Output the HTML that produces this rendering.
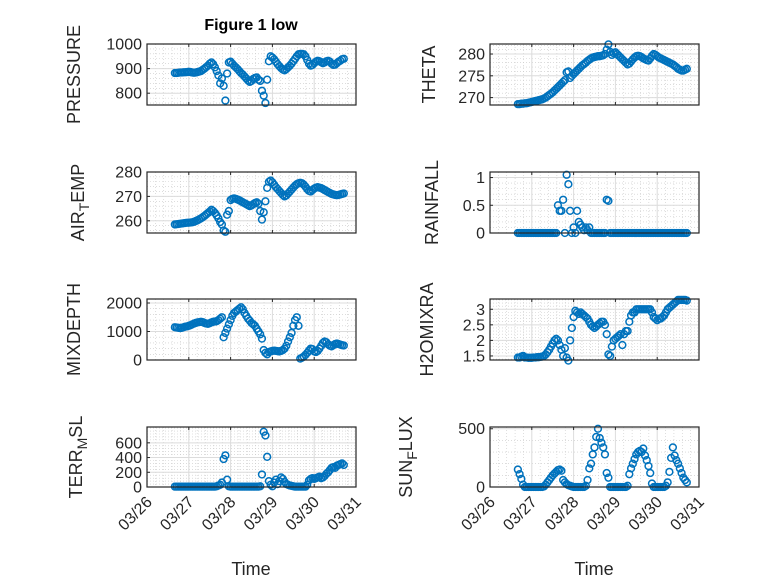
<!DOCTYPE html>
<html><head><meta charset="utf-8"><style>
body{margin:0;background:#fff;}
svg{display:block;font-family:"Liberation Sans","DejaVu Sans",sans-serif;}
</style></head><body>
<svg id="fig" width="778" height="583" viewBox="0 0 778 583" xmlns="http://www.w3.org/2000/svg">
<rect width="778" height="583" fill="#fff"/>
<text x="251" y="30" text-anchor="middle" font-size="16" font-weight="bold" fill="#000">Figure 1 low</text>
<text x="251" y="575" text-anchor="middle" font-size="18" fill="#262626">Time</text>
<text x="594" y="575" text-anchor="middle" font-size="18" fill="#262626">Time</text>
</svg>
<script>
const startHour = 16;
const dayLabels = ["03/26","03/27","03/28","03/29","03/30","03/31"];
const pressure = [882,882,883,884,884,885,885,886,887,886,884,883,884,886,888,890,895,900,906,912,920,925,918,905,890,872,840,860,830,770,880,925,928,920,912,905,898,890,882,876,868,860,852,846,850,858,862,864,855,850,810,790,760,855,930,950,945,938,928,918,910,902,896,893,898,905,912,920,930,940,950,958,960,960,958,950,935,920,912,915,922,928,932,930,926,922,925,930,932,928,920,915,916,922,928,932,938,940];
const theta = [268.5,268.5,268.6,268.6,268.7,268.7,268.8,268.9,269.0,269.1,269.2,269.3,269.4,269.5,269.6,269.8,270.0,270.3,270.6,270.9,271.2,271.6,272.0,272.4,272.8,273.2,273.6,274.0,275.8,276.0,274.5,275.0,275.4,275.8,276.2,276.6,277.0,277.4,277.7,278.0,278.4,278.7,279.0,279.2,279.3,279.4,279.5,279.5,279.6,279.7,280.0,281.0,282.2,280.5,279.8,280.2,280.4,280.0,279.6,279.2,278.8,278.4,278.0,277.6,277.8,278.3,278.8,279.2,279.5,279.6,279.5,279.3,279.0,278.8,278.6,278.5,279.0,279.6,280.0,279.8,279.5,279.2,279.0,278.8,278.6,278.4,278.2,278.0,277.8,277.6,277.3,277.0,276.6,276.4,276.2,276.2,276.4,276.6];
const airTemp = [258.5,258.6,258.7,258.8,258.9,259.0,259.1,259.2,259.2,259.3,259.4,259.6,259.9,260.2,260.6,261.0,261.5,262.0,262.6,263.2,263.8,264.5,264.0,263.2,262.2,261.0,259.5,258.5,256.0,255.5,262.5,264.0,268.5,269.0,269.2,269.0,268.7,268.4,268.0,267.6,267.2,266.8,266.4,266.0,266.3,266.8,267.3,267.6,267.0,264.0,260.5,263.5,268.0,273.5,276.0,276.5,275.8,274.8,273.8,273.0,272.2,271.4,270.6,270.0,270.4,271.2,272.0,272.8,273.6,274.4,275.0,275.4,275.6,275.4,274.8,274.0,273.0,272.3,272.0,272.6,273.2,273.6,273.8,273.6,273.4,273.0,272.6,272.2,271.8,271.4,271.0,270.8,270.6,270.5,270.6,270.8,271.0,271.2];
const rainfall = [0,0,0,0,0,0,0,0,0,0,0,0,0,0,0,0,0,0,0,0,0,0,0,0.5,0.4,0.4,0.6,0,1.05,0.88,0.4,0,0.1,0,0.4,0.2,0.15,0.1,0.05,0.1,0.05,0.1,0,0,0,0,0,0,0,0,0,0.6,0.58,0,0,0,0,0,0,0,0,0,0,0,0,0,0,0,0,0,0,0,0,0,0,0,0,0,0,0,0,0,0,0,0,0,0,0,0,0,0,0,0,0,0,0,0,0];
const mixDepth = [1150,1140,1130,1120,1130,1150,1170,1180,1200,1220,1250,1280,1300,1320,1330,1340,1330,1300,1280,1270,1290,1320,1340,1350,1360,1400,1450,1500,800,950,1100,1250,1400,1550,1650,1700,1750,1800,1850,1780,1650,1550,1450,1380,1300,1250,1200,1100,1000,900,750,350,250,200,280,300,320,330,320,310,300,320,350,400,500,650,800,950,1200,1400,1500,1200,50,80,120,180,250,330,400,380,300,280,320,400,500,600,650,620,550,500,480,520,560,580,560,540,520,510];
const h2oMix = [1.45,1.45,1.48,1.5,1.45,1.45,1.44,1.44,1.44,1.45,1.45,1.46,1.46,1.47,1.48,1.5,1.55,1.62,1.7,1.8,1.9,2.0,2.05,2.0,1.85,1.7,1.5,1.75,1.45,1.35,2.0,2.4,2.75,2.95,2.9,2.85,2.9,2.85,2.8,2.75,2.7,2.6,2.5,2.45,2.4,2.45,2.5,2.55,2.6,2.6,2.5,2.2,1.55,1.5,1.8,2.0,2.05,2.1,2.15,2.2,1.85,2.2,2.3,2.3,2.6,2.8,2.9,2.9,3.0,3.0,3.0,3.0,3.0,3.0,3.0,3.0,3.0,2.9,2.75,2.7,2.65,2.7,2.7,2.75,2.8,2.9,3.0,3.05,3.1,3.15,3.2,3.25,3.3,3.3,3.3,3.3,3.3,3.28];
const terrMsl = [5,5,5,5,5,5,5,5,5,5,5,5,5,5,5,5,5,5,5,5,5,5,5,5,10,20,30,60,380,430,100,10,5,5,5,5,5,5,5,5,5,5,5,5,5,5,5,5,5,10,170,750,700,410,80,30,10,60,100,40,80,130,110,70,40,30,20,15,10,5,5,5,5,5,5,5,30,90,110,120,110,120,130,140,120,130,150,180,200,230,260,270,260,290,300,310,320,300];
const sunFlux = [150,110,70,20,0,0,0,0,0,0,0,0,0,0,0,5,20,40,60,80,100,115,130,145,150,140,60,40,25,15,10,5,0,0,0,0,0,0,0,10,60,160,200,280,340,430,500,420,380,340,280,120,80,0,0,0,0,0,0,0,0,0,0,10,110,160,200,240,280,300,310,300,330,270,230,180,120,30,0,0,0,0,0,0,0,10,40,130,250,340,270,230,200,160,120,80,60,40];

const pressureTicks = [800,900,1000];
const thetaTicks = [270,275,280];
const airTicks = [260,270,280];
const rainTicks = [0,0.5,1];
const mixTicks = [0,1000,2000];
const h2oTicks = [1.5,2,2.5,3];
const terrTicks = [0,200,400,600];
const sunTicks = [0,500];

const svg = document.getElementById('fig');
const NS = 'http://www.w3.org/2000/svg';
function mk(tag, attrs, parent){const e=document.createElementNS(NS,tag);for(const k in attrs)e.setAttribute(k,attrs[k]);(parent||svg).appendChild(e);return e;}

const panels = [
 {name:'pressure',label:['PRESSURE'],data:pressure,ticks:pressureTicks,ymin:752,ymax:1000,minor:20,x0:147,x1:356,y0:44,y1:105,lx:80,showX:false},
 {name:'theta',label:['THETA'],data:theta,ticks:thetaTicks,ymin:268.3,ymax:282.3,minor:1,x0:490,x1:699,y0:44,y1:105,lx:435,showX:false},
 {name:'air-temp',label:['AIR','T','EMP'],data:airTemp,ticks:airTicks,ymin:255,ymax:280,minor:2,x0:147,x1:356,y0:172,y1:233,lx:84,showX:false},
 {name:'rainfall',label:['RAINFALL'],data:rainfall,ticks:rainTicks,ymin:0,ymax:1.1,minor:0.1,x0:490,x1:699,y0:172,y1:233,lx:438,showX:false},
 {name:'mixdepth',label:['MIXDEPTH'],data:mixDepth,ticks:mixTicks,ymin:0,ymax:2140,minor:200,x0:147,x1:356,y0:299,y1:360,lx:80,showX:false},
 {name:'h2omixra',label:['H2OMIXRA'],data:h2oMix,ticks:h2oTicks,ymin:1.37,ymax:3.33,minor:0.1,x0:490,x1:699,y0:299,y1:360,lx:433,showX:false},
 {name:'terr-msl',label:['TERR','M','SL'],data:terrMsl,ticks:terrTicks,ymin:0,ymax:815,minor:40,x0:147,x1:356,y0:427,y1:487,lx:82,showX:true},
 {name:'sun-flux',label:['SUN','F','LUX'],data:sunFlux,ticks:sunTicks,ymin:0,ymax:515,minor:100,x0:490,x1:699,y0:427,y1:487,lx:412,showX:true}
];

panels.forEach(p=>{
  const g = mk('g',{});
  
  
  const xs = h => p.x0 + (h/24)*(p.x1-p.x0)/5;
  const ys = v => p.y1 - (v-p.ymin)/(p.ymax-p.ymin)*(p.y1-p.y0);
  for(let d=0; d<5; d++){for(let k=1;k<5;k++){const x=xs(d*24+k*4.8);
    const l=mk('line',{x1:x,x2:x,y1:p.y0,y2:p.y1,stroke:'#c8c8c8','stroke-width':0.6,'stroke-dasharray':'1,2'},g);
    
    }}
  const vStart=Math.ceil(p.ymin/p.minor)*p.minor;
  for(let v=vStart; v<p.ymax; v+=p.minor){const y=ys(v);
    const l=mk('line',{x1:p.x0,x2:p.x1,y1:y,y2:y,stroke:'#c8c8c8','stroke-width':0.6,'stroke-dasharray':'1,2'},g);
    
    }
  for(let d=1; d<5; d++){const x=xs(d*24);
    const l=mk('line',{x1:x,x2:x,y1:p.y0,y2:p.y1,stroke:'#dcdcdc','stroke-width':1},g);
    
    }
  p.ticks.forEach(t=>{const y=ys(t);
    const l=mk('line',{x1:p.x0,x2:p.x1,y1:y,y2:y,stroke:'#dcdcdc','stroke-width':1},g);
    
    
    const tk=mk('line',{x1:p.x0,x2:p.x0+3,y1:y,y2:y,stroke:'#262626','stroke-width':1},g);
    
    
    const tx=mk('text',{x:p.x0-5,y:y+5.5,'text-anchor':'end','font-size':16,fill:'#262626'},g);
    tx.textContent=String(t);
    
    });
  dayLabels.forEach((lab,d)=>{const x=xs(d*24);
    const tk=mk('line',{x1:x,x2:x,y1:p.y1,y2:p.y1-3,stroke:'#262626','stroke-width':1},g);
    
    
    const tk2=mk('line',{x1:x,x2:x,y1:p.y0,y2:p.y0+3,stroke:'#262626','stroke-width':1},g);
    
    
    if(p.showX){const ax=x+6, ay=p.y1+16;
      const tx=mk('text',{x:ax,y:ay,'text-anchor':'end','font-size':16,fill:'#262626',transform:`rotate(-45 ${ax} ${ay})`},g);
      tx.textContent=lab;
      
      }});
  p.data.forEach((v,i)=>{const c=mk('circle',{cx:xs(startHour+i),cy:ys(v),r:3.4,fill:'none',stroke:'#0072BD','stroke-width':1.5},g);
    
    });
  const b=mk('rect',{x:p.x0,y:p.y0,width:p.x1-p.x0,height:p.y1-p.y0,fill:'none',stroke:'#262626','stroke-width':1.2},g);
  
  
  const cy=(p.y0+p.y1)/2;
  const t=mk('text',{x:p.lx,y:cy,'text-anchor':'middle','font-size':18,fill:'#262626',transform:`rotate(-90 ${p.lx} ${cy})`},g);
  
  
  if(p.label.length===1){t.textContent=p.label[0];}
  else{const a=document.createElementNS(NS,'tspan');a.textContent=p.label[0];t.appendChild(a);
    const s=document.createElementNS(NS,'tspan');s.setAttribute('dy','5');s.setAttribute('font-size','14');s.textContent=p.label[1];t.appendChild(s);
    const c2=document.createElementNS(NS,'tspan');c2.setAttribute('dy','-5');c2.textContent=p.label[2];t.appendChild(c2);}
});
</script>
</body></html>
